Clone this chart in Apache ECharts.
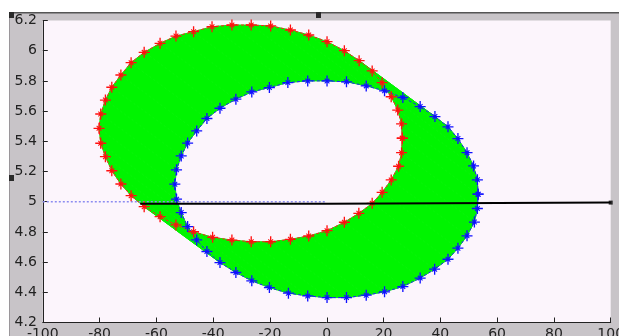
<!DOCTYPE html>
<html>
<head>
<meta charset="utf-8">
<script src="https://cdn.jsdelivr.net/npm/echarts@6/dist/echarts.min.js"></script>
<style>
  html, body { margin: 0; padding: 0; background: #fff; }
  #chart { width: 619px; height: 336px; }
</style>
</head>
<body>
<div id="chart"></div>
<script>
// red ring (marker positions)
const redX = [26.6, 26.35, 25.0, 22.7, 19.5, 16.0, 11.4, 6.2, 0.1, -6.35, -12.8, -19.75, -26.6, -33.4, -40.4, -46.9,
  -53.1, -58.7, -64.3, -68.9, -72.5, -75.7, -77.95, -79.6, -80.2, -79.6, -77.95, -75.7, -72.5, -68.9, -64.3, -58.7,
  -53.1, -46.9, -40.2, -33.4, -26.6, -19.75, -12.8, -6.35, 0.1, 6.2, 11.3, 16.0, 19.5, 22.7, 25.3, 26.35];
const redY = [5.420, 5.515, 5.607, 5.695, 5.788, 5.866, 5.934, 6.000, 6.060, 6.104, 6.137, 6.164, 6.170, 6.170, 6.159, 6.126,
  6.097, 6.049, 5.989, 5.921, 5.839, 5.758, 5.673, 5.581, 5.486, 5.387, 5.298, 5.205, 5.117, 5.040, 4.967, 4.901,
  4.846, 4.801, 4.764, 4.746, 4.735, 4.735, 4.751, 4.773, 4.808, 4.864, 4.923, 4.989, 5.062, 5.144, 5.235, 5.325];

// blue ring
const blueX = [53.3, 53.05, 51.7, 49.4, 46.2, 42.7, 38.1, 32.9, 26.8, 20.35, 13.9, 6.95, 0.1, -6.7, -13.7, -20.2,
  -26.4, -32.0, -37.6, -42.2, -45.8, -49.0, -51.25, -52.9, -53.5, -52.9, -51.25, -49.0, -45.8, -42.2, -37.6, -32.0,
  -26.4, -20.2, -13.5, -6.7, 0.1, 6.95, 13.9, 20.35, 26.8, 32.9, 38.0, 42.7, 46.2, 49.4, 52.0, 53.05];
const blueY = [5.050, 5.145, 5.237, 5.325, 5.418, 5.496, 5.564, 5.630, 5.690, 5.734, 5.767, 5.794, 5.800, 5.800, 5.789, 5.756,
  5.727, 5.679, 5.619, 5.551, 5.469, 5.388, 5.303, 5.211, 5.116, 5.017, 4.928, 4.835, 4.747, 4.670, 4.597, 4.531,
  4.476, 4.431, 4.394, 4.376, 4.365, 4.365, 4.381, 4.403, 4.438, 4.494, 4.553, 4.619, 4.692, 4.774, 4.865, 4.955];

// horizontal lines
const dotLineX = [-100, 0];
const dotLineY = [5.0, 5.0];
const blackLineX = [-65.7, 0.5, 0.5, 100];
const blackLineY = [4.987, 4.987, 4.994, 4.994];

// ticks
const xTicks = [-100, -80, -60, -40, -20, 0, 20, 40, 60, 80, 100];
const yTicks = [4.2, 4.4, 4.6, 4.8, 5, 5.2, 5.4, 5.6, 5.8, 6, 6.2];

const GREEN = '#00f400';
// matlab style '*' marker
const STAR = 'path://M4.4,0H5.6V10H4.4Z M0,4.4H10V5.6H0Z M3.2,2.5L7.5,6.8L6.8,7.5L2.5,3.2Z M6.8,2.5L7.5,3.2L3.2,7.5L2.5,6.8Z';

const ring = (xs, ys) => xs.map((x, i) => [x, ys[i]]).concat([[xs[0], ys[0]]]);
const pairs = (xs, ys) => xs.map((x, i) => [x, ys[i]]);

// band between rings: one quad per pair of neighbouring marker pairs
const bandData = redX.map((x, i) => {
  const j = (i + 1) % redX.length;
  return [redX[i], redY[i], redX[j], redY[j], blueX[j], blueY[j], blueX[i], blueY[i]];
});

const axisFont = { fontFamily: 'DejaVu Sans', fontSize: 14, color: '#222' };

const chart = echarts.init(document.getElementById('chart'), null, { renderer: 'canvas' });
chart.setOption({
  animation: false,
  backgroundColor: '#c8c4c8',
  graphic: [
    { type: 'rect', shape: { x: 0, y: 0, width: 619, height: 12 }, style: { fill: '#ffffff' }, silent: true },
    { type: 'rect', shape: { x: 0, y: 0, width: 9, height: 336 }, style: { fill: '#ffffff' }, silent: true },
    { type: 'rect', shape: { x: 9, y: 12, width: 610, height: 1.5 }, style: { fill: '#555' }, silent: true },
    { type: 'rect', shape: { x: 9, y: 12, width: 1, height: 324 }, style: { fill: '#9a969a' }, silent: true },
    { type: 'rect', shape: { x: 9, y: 12, width: 5, height: 6 }, style: { fill: '#2a2a2a' }, silent: true },
    { type: 'rect', shape: { x: 316, y: 12, width: 5, height: 6 }, style: { fill: '#2a2a2a' }, silent: true },
    { type: 'rect', shape: { x: 9, y: 175, width: 5, height: 6 }, style: { fill: '#2a2a2a' }, silent: true }
  ],
  grid: {
    left: 42.8, right: 8.3, top: 20.5, bottom: 13.5,
    containLabel: false, outerBoundsMode: 'none',
    show: true, backgroundColor: '#fcf5fc', borderWidth: 0
  },
  xAxis: {
    type: 'value', min: -100, max: 100, interval: 20,
    axisLine: { show: true, onZero: false, lineStyle: { color: '#222', width: 1 } },
    axisTick: { show: true, inside: true, length: 5, customValues: xTicks, lineStyle: { color: '#222' } },
    axisLabel: { ...axisFont, margin: 5, hideOverlap: false, customValues: xTicks, formatter: (v) => String(v) },
    splitLine: { show: false }
  },
  yAxis: {
    type: 'value', min: 4.2, max: 6.2, interval: 0.2,
    axisLine: { show: true, onZero: false, lineStyle: { color: '#222', width: 1 } },
    axisTick: { show: true, inside: true, length: 5, customValues: yTicks, lineStyle: { color: '#222' } },
    axisLabel: { ...axisFont, margin: 6, customValues: yTicks, formatter: (v) => String(v) },
    splitLine: { show: false }
  },
  series: [
    {
      type: 'custom',
      z: 1,
      silent: true,
      data: bandData,
      encode: { x: [0, 2, 4, 6], y: [1, 3, 5, 7] },
      renderItem: function (params, api) {
        const pts = [];
        for (let j = 0; j < 4; j++) pts.push(api.coord([api.value(2 * j), api.value(2 * j + 1)]));
        return {
          type: 'polygon',
          shape: { points: pts },
          style: { fill: GREEN, stroke: GREEN, lineWidth: 1 }
        };
      }
    },
    {
      type: 'line', z: 3, silent: true,
      data: pairs(dotLineX, dotLineY),
      symbol: 'none',
      lineStyle: { color: '#8c8cf0', width: 1.5, type: [2, 2] }
    },
    {
      type: 'line', z: 4, silent: true,
      data: ring(redX, redY),
      symbol: STAR, symbolSize: 11, showSymbol: true,
      lineStyle: { color: '#ff2020', width: 1, type: [3, 2] },
      itemStyle: { color: '#ff1010' }
    },
    {
      type: 'line', z: 4, silent: true,
      data: ring(blueX, blueY),
      symbol: STAR, symbolSize: 11, showSymbol: true,
      lineStyle: { color: '#2020ff', width: 1, type: [3, 2] },
      itemStyle: { color: '#1010ff' }
    },
    {
      type: 'line', z: 5, silent: true,
      data: pairs(blackLineX, blackLineY),
      symbol: 'none',
      lineStyle: { color: '#000', width: 2 }
    },
    {
      type: 'scatter', z: 5, silent: true,
      data: [[blackLineX[blackLineX.length - 1], blackLineY[blackLineY.length - 1]]],
      symbol: 'rect', symbolSize: 4,
      itemStyle: { color: '#000' }
    }
  ]
});
</script>
</body>
</html>
